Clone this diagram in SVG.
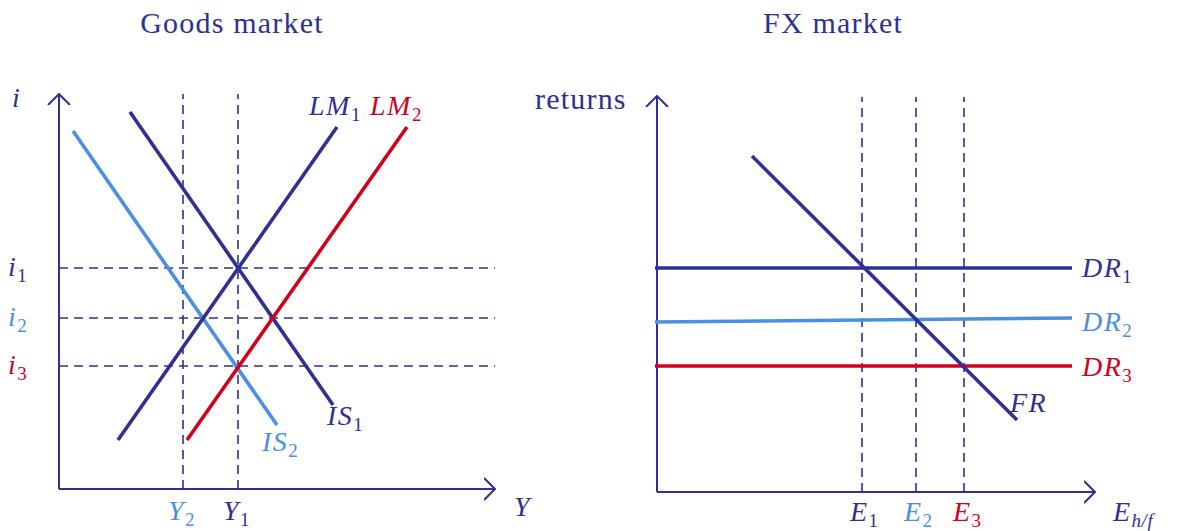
<svg xmlns="http://www.w3.org/2000/svg" width="1181" height="531" viewBox="0 0 1181 531">
<style>
.t{font-family:"Liberation Serif",serif;font-size:30px;letter-spacing:1.2px;fill:#2E3192}
.m{font-family:"Liberation Serif",serif;font-style:italic;font-size:28px;letter-spacing:1.5px}
.s{font-size:19px;font-style:normal;letter-spacing:0}
.si{font-size:19px;font-style:italic;letter-spacing:0.5px}
.nv{fill:#2E3192}.lb{fill:#4A90E2}.rd{fill:#D0021B}
.ax{stroke:#2E3192;stroke-width:2;fill:none}
.ds{stroke:#2E3192;stroke-width:1.6;stroke-dasharray:9,6;fill:none}
.ln{stroke-width:3.6;fill:none}
</style>
<defs>
<marker id="ah" viewBox="0 0 12 24" refX="11" refY="12" markerWidth="12" markerHeight="24" markerUnits="userSpaceOnUse" orient="auto">
<path d="M0,1 L11,12 L0,23" fill="none" stroke="#2E3192" stroke-width="2"/>
</marker>
</defs>
<text class="t" x="232" y="33" text-anchor="middle">Goods market</text>
<text class="t" x="833" y="33" text-anchor="middle">FX market</text>
<g id="connectors">
<path class="ax" d="M59,489 V94" marker-end="url(#ah)"/>
<path class="ax" d="M59,489 H495" marker-end="url(#ah)"/>
<path class="ds" d="M59,268 H495 M59,318 H495 M59,366 H495"/>
<path class="ds" d="M183,489 V94 M238,489 V94"/>
<path class="ax" d="M657,492 V96" marker-end="url(#ah)"/>
<path class="ax" d="M657,492 H1095" marker-end="url(#ah)"/>
<path class="ds" d="M862,492 V97 M916,492 V97 M964,492 V97"/>
</g>
<g id="IS2"><path class="ln" stroke="#4A90E2" d="M73,131 L277,425"/><text class="m lb" x="262" y="451">IS<tspan class="s" dy="6">2</tspan></text></g>
<g id="IS1"><path class="ln" stroke="#2E3192" d="M130,112 L333,405"/><text class="m nv" x="327" y="425">IS<tspan class="s" dy="6">1</tspan></text></g>
<g id="LM1"><path class="ln" stroke="#2E3192" d="M118,440 L337,127"/><text class="m nv" x="309" y="115">LM<tspan class="s" dy="6">1</tspan></text></g>
<g id="LM2"><path class="ln" stroke="#D0021B" d="M187,440 L407,127"/><text class="m rd" x="370" y="115">LM<tspan class="s" dy="6">2</tspan></text></g>
<g id="leftlabels">
<text class="m nv" x="12" y="107">i</text>
<text class="m nv" x="8" y="276">i<tspan class="s" dy="6">1</tspan></text>
<text class="m lb" x="8" y="326">i<tspan class="s" dy="6">2</tspan></text>
<text class="m rd" x="8" y="374">i<tspan class="s" dy="6">3</tspan></text>
<text class="m lb" x="168" y="520">Y<tspan class="s" dy="6">2</tspan></text>
<text class="m nv" x="223" y="520">Y<tspan class="s" dy="6">1</tspan></text>
<text class="m nv" x="514" y="516">Y</text>
</g>
<g id="DR1"><path class="ln" stroke="#2E3192" d="M655,268 H1072"/><text class="m nv" x="1082" y="277">DR<tspan class="s" dy="6">1</tspan></text></g>
<g id="DR2"><path class="ln" stroke="#4A90E2" d="M655,322 L1072,318"/><text class="m lb" x="1082" y="331">DR<tspan class="s" dy="6">2</tspan></text></g>
<g id="DR3"><path class="ln" stroke="#D0021B" d="M655,366 H1072"/><text class="m rd" x="1082" y="376">DR<tspan class="s" dy="6">3</tspan></text></g>
<g id="FR"><path class="ln" stroke="#2E3192" d="M752,156 L1017,420"/><text class="m nv" x="1010" y="412">FR</text></g>
<g id="rightlabels">
<text class="t" x="535" y="109">returns</text>
<text class="m nv" x="850" y="521">E<tspan class="s" dy="6">1</tspan></text>
<text class="m lb" x="904" y="521">E<tspan class="s" dy="6">2</tspan></text>
<text class="m rd" x="953" y="521">E<tspan class="s" dy="6">3</tspan></text>
<text class="m nv" x="1113" y="521">E<tspan class="si" dy="6">h/f</tspan></text>
</g>
</svg>
